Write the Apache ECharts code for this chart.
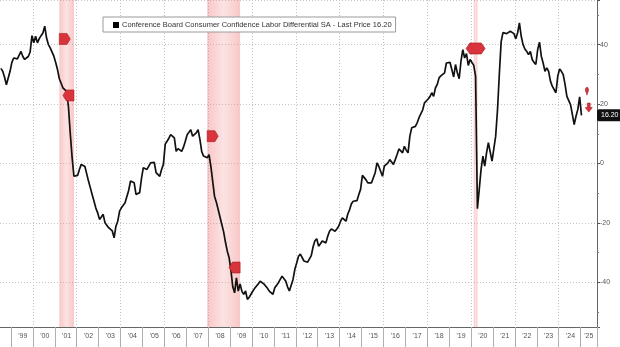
<!DOCTYPE html>
<html>
<head>
<meta charset="utf-8">
<script src="https://cdn.jsdelivr.net/npm/echarts@6/dist/echarts.min.js"></script>
<style>
html,body{margin:0;padding:0;background:#fff;}
#chart{width:620px;height:347px;}
</style>
</head>
<body>
<div id="chart"></div>
<script>
// ---- data ----
const seriesName = 'Conference Board Consumer Confidence Labor Differential SA - Last Price 16.20';
const firstMonth = [1998, 7];   // first category (axis starts here)
const lastMonth = [2025, 9];    // last category (axis ends here)
const yearLabels = ["'99","'00","'01","'02","'03","'04","'05","'06","'07","'08","'09","'10","'11","'12","'13","'14","'15","'16","'17","'18","'19","'20","'21","'22","'23","'24","'25"];
// monthly values, starting Jul 1998
const labourDiff = [
  32, 31, 29, 26.5, 27, 31,
  34, 35.5, 35.3, 35.2, 35, 37.7, 36, 35, 34.4, 36, 37.5, 43,
  40.6, 42.8, 40.6, 42, 43, 43.9, 46.2, 42.2, 40, 38.9, 38.3, 36.1,
  34, 31.6, 28.5, 27, 25.4, 24.8, 24.3, 19, 10, 2, -4.3, -4.3,
  -4, -2, -0.3, -0.9, -1, -3.5, -6, -8.2, -10.5, -12.7, -15, -16.6,
  -18.8, -18, -17.1, -19.9, -20.5, -21.6, -22, -22.7, -25, -21.1, -19.4, -16,
  -14.9, -15.5, -13.2, -12.9, -9, -5.9, -6, -6.5, -10.4, -10, -9.8, -5,
  -1.4, -1.7, -2, -0.9, 0.2, 0.2, 0.4, -3.1, -3.7, -4.3, -2, -0.3,
  6.5, 7.5, 8.5, 9.7, 9.2, 8.6, 4.1, 5, 5.3, 4.1, 5.5, 7.5,
  9.7, 10.5, 11.4, 9.2, 9.8, 10.3, 11.4, 8.1, 4, 2.5, 1.9, 1.9,
  3, -1, -6, -11, -13, -15.5, -18, -20.5, -23, -26.5, -29.5, -31.7,
  -36, -41.5, -43.5, -38.5, -42.9, -40.5, -43, -44, -42.9, -45.7, -45, -44.6,
  -42.9, -42, -41.2, -40.5, -39.6, -40, -40.5, -41.2, -42, -42.9, -43.5, -44,
  -41.8, -41, -40.1, -39, -37.9, -37.5, -39.5, -41.5, -42.9, -43.5, -39, -35.6,
  -33.5, -31.2, -30.5, -30, -32.8, -33, -33.2, -33.2, -31, -28, -26, -25.3,
  -27.8, -27, -26.1, -26.5, -26.7, -24.5, -22.8, -22, -22.3, -22.8, -22, -21.1,
  -19.5, -18.3, -17.7, -19.4, -17, -15.5, -13.5, -12.7, -12.1, -12.5, -10.5, -8.7,
  -4, -4.3, -5.5, -6.5, -5.9, -6.5, -7.1, -3.1, 0.2, -1, -1.4, -4.3,
  -0.9, -0.7, 0.2, 1.3, 0.5, -0.3, 1.3, 3, 4.9, 4.5, 3.6, 5.8,
  4.5, 3.6, 9.2, 12, 11.4, 12.5, 13.7, 15.4, 14.8, 18, 20.4, 20.9,
  21.7, 22.5, 23.8, 22.6, 25.4, 26.6, 28.8, 29.5, 29.9, 30.5, 33.8, 34.4,
  34, 33.8, 29.1, 33.3, 30.5, 28.5, 34.4, 38.3, 35.5, 37, 33, 35,
  35, 33, 29.3, -15.2, -8.7, -2, 2.5, -0.9, 3.6, 7, 7, 0.8,
  0.2, 9.2, 18, 30, 41, 44, 44.1, 43.7, 44, 44.5, 44.5, 43.7,
  42, 43.9, 47.3, 42.8, 40, 38.5, 37.7, 36.6, 37.7, 35, 34, 33.3,
  38.3, 40.8, 36.1, 33.8, 31, 32.2, 31, 27.7, 26, 24.9, 23.8, 29.3,
  31.8, 31, 29.9, 26.6, 22.6, 22.1, 19.8, 16.5, 13.1, 15.9, 18.2, 22.4,
  16.2
];
const lastPrice = 16.20;
const recessions = [['2001-03', '2001-11'], ['2007-12', '2009-06'], ['2020-02', '2020-04']];
const eventDates = ['2001-06', '2001-08', '2008-03', '2009-03', '2020-03', '2025-04', '2025-05'];
const eventValues = [41.9, 22.9, 9.2, -35, 38.7, 23, 18.8];

// ---- categories ----
const months = [];
for (let y = firstMonth[0], m = firstMonth[1]; y < lastMonth[0] || (y === lastMonth[0] && m <= lastMonth[1]); ) {
  months.push(y + '-' + String(m).padStart(2, '0'));
  m++; if (m > 12) { m = 1; y++; }
}
function visibleMonthsOf(y) {
  let c = 0; months.forEach(v => { if (+v.slice(0, 4) === y) c++; }); return c;
}
function isLabelMonth(v) {
  const y = +v.slice(0, 4), m = +v.slice(5, 7);
  const idx = y - 1999;
  if (idx < 0 || idx >= yearLabels.length) return false;
  const vis = visibleMonthsOf(y);
  return m === Math.floor(vis / 2) + 1;
}

// ---- marker shapes ----
const RED = '#d9343b';
const shapeRight = 'path://M0,0 L7,0 L10,5 L7,10 L0,10 Z';
const shapeLeft = 'path://M3,0 L10,0 L10,10 L3,10 L0,5 Z';
const shapeOct = 'path://M4,0 L16,0 L20,5 L16,10 L4,10 L0,5 Z';
const shapeDown = 'path://M3,0 L7,0 L7,5 L10,5 L5,10 L0,5 L3,5 Z';
const eventStyle = [
  {symbol: shapeRight, symbolSize: [11, 11]},
  {symbol: shapeLeft, symbolSize: [11, 11]},
  {symbol: shapeRight, symbolSize: [11, 11]},
  {symbol: shapeLeft, symbolSize: [11, 11]},
  {symbol: shapeOct, symbolSize: [19, 11]},
  {symbol: 'pin', symbolSize: [5, 9]},
  {symbol: shapeDown, symbolSize: [7, 9]}
];

const chart = echarts.init(document.getElementById('chart'), null, {renderer: 'canvas'});
chart.setOption({
  animation: false,
  backgroundColor: '#fff',
  textStyle: {fontFamily: 'Liberation Sans, Arial, sans-serif'},
  grid: {left: 0, right: 23, top: 0, bottom: 20, containLabel: false},
  legend: {
    data: [seriesName],
    left: 103, top: 17,
    padding: [4, 4, 3, 10],
    icon: 'rect', itemWidth: 6, itemHeight: 6,
    backgroundColor: '#fff', borderColor: '#9a9a9a', borderWidth: 1,
    textStyle: {fontSize: 7.5, color: '#333', padding: [0, 0, 0, -2]}
  },
  graphic: [{
    type: 'text', left: 105, top: 21,
    style: {text: '≡', fontSize: 7, fill: '#aaa'}
  }],
  xAxis: {
    type: 'category', data: months, boundaryGap: true,
    axisLine: {show: true, onZero: false, lineStyle: {color: '#666', width: 1}},
    axisTick: {show: true, interval: (i, v) => v.endsWith('-01'), length: 20, lineStyle: {color: '#b0b0b0'}},
    axisLabel: {
      interval: (i, v) => isLabelMonth(v),
      formatter: v => yearLabels[+v.slice(0, 4) - 1999],
      fontSize: 7, color: '#555', margin: 6
    },
    splitLine: {
      show: true,
      interval: (i, v) => v.endsWith('-01') && (+v.slice(0, 4)) % 2 === 0,
      lineStyle: {color: '#c4c4c4', type: [1, 2], width: 1}
    }
  },
  yAxis: {
    type: 'value', position: 'right', min: -55, max: 55, splitNumber: 5,
    axisLine: {show: true, lineStyle: {color: '#666', width: 1}},
    axisTick: {show: true, length: 3, lineStyle: {color: '#555'}},
    minorTick: {show: true, splitNumber: 2, length: 2, lineStyle: {color: '#777'}},
    axisLabel: {fontSize: 7, color: '#555', margin: 3, showMinLabel: false, showMaxLabel: false},
    splitLine: {show: true, lineStyle: {color: '#c4c4c4', type: [1, 2], width: 1}}
  },
  series: [{
    name: seriesName,
    type: 'line',
    data: labourDiff,
    symbol: 'none',
    itemStyle: {color: '#000'},
    lineStyle: {color: '#111', width: 1.7},
    z: 3,
    markArea: {
      silent: true,
      itemStyle: {
        color: {type: 'linear', x: 0, y: 0, x2: 1, y2: 0, colorStops: [
          {offset: 0, color: 'rgba(240,120,120,0.42)'},
          {offset: 0.5, color: 'rgba(245,160,160,0.30)'},
          {offset: 1, color: 'rgba(240,120,120,0.42)'}
        ]}
      },
      data: recessions.map(r => [{xAxis: r[0]}, {xAxis: r[1]}])
    },
    markPoint: {
      silent: true,
      label: {show: false},
      itemStyle: {color: RED, borderColor: '#a81c22', borderWidth: 0.6},
      data: eventDates.map((d, i) => Object.assign({coord: [d, eventValues[i]]}, eventStyle[i]))
    },
    markLine: {
      silent: true,
      symbol: 'none',
      lineStyle: {color: 'rgba(0,0,0,0)', width: 0},
      label: {
        show: true, position: 'end', distance: 0,
        formatter: () => lastPrice.toFixed(2),
        backgroundColor: '#111', color: '#fff', fontSize: 7,
        padding: [3, 3, 2, 4], borderRadius: 2
      },
      data: [{yAxis: lastPrice}]
    }
  }]
});
</script>
</body>
</html>
